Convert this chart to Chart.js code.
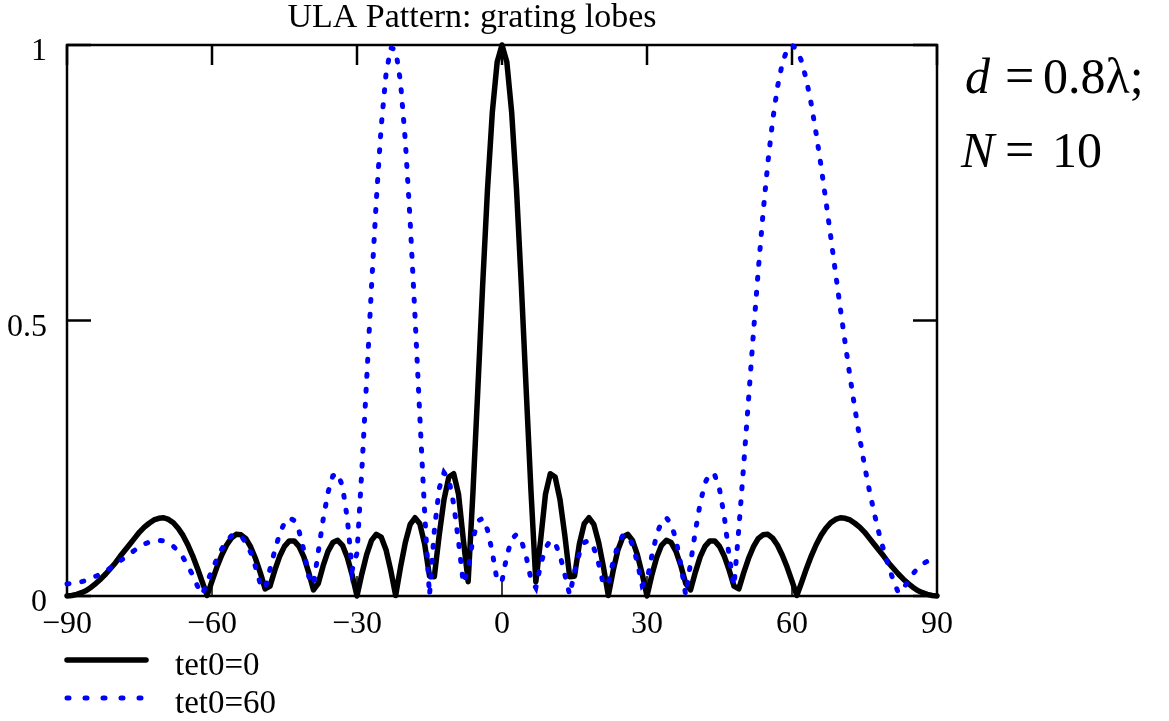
<!DOCTYPE html>
<html>
<head>
<meta charset="utf-8">
<title>ULA Pattern: grating lobes</title>
<script src="https://cdn.jsdelivr.net/npm/chart.js@4/dist/chart.umd.min.js"></script>
<style>
  html, body { margin: 0; padding: 0; background: #fff; }
  canvas { display: block; }
</style>
</head>
<body>
<canvas id="pattern" width="1169" height="721"></canvas>
<script>
// scan angle, degrees
const angles = [
  -90, -89, -88, -87, -86, -85, -84, -83, -82, -81,
  -80, -79, -78, -77, -76, -75, -74, -73, -72, -71,
  -70, -69, -68, -67, -66, -65, -64, -63, -62, -61,
  -60, -59, -58, -57, -56, -55, -54, -53, -52, -51,
  -50, -49, -48, -47, -46, -45, -44, -43, -42, -41,
  -40, -39, -38, -37, -36, -35, -34, -33, -32, -31,
  -30, -29, -28, -27, -26, -25, -24, -23, -22, -21,
  -20, -19, -18, -17, -16, -15, -14, -13, -12, -11,
  -10, -9, -8, -7, -6, -5, -4, -3, -2, -1,
  0,
  1, 2, 3, 4, 5, 6, 7, 8, 9, 10,
  11, 12, 13, 14, 15, 16, 17, 18, 19, 20,
  21, 22, 23, 24, 25, 26, 27, 28, 29, 30,
  31, 32, 33, 34, 35, 36, 37, 38, 39, 40,
  41, 42, 43, 44, 45, 46, 47, 48, 49, 50,
  51, 52, 53, 54, 55, 56, 57, 58, 59, 60,
  61, 62, 63, 64, 65, 66, 67, 68, 69, 70,
  71, 72, 73, 74, 75, 76, 77, 78, 79, 80,
  81, 82, 83, 84, 85, 86, 87, 88, 89, 90
];

// normalised pattern, beam steered to 0 deg
const tet0_0 = [
  0, 0.001, 0.003, 0.006, 0.010, 0.016, 0.023, 0.031, 0.040, 0.050,
  0.060, 0.072, 0.083, 0.094, 0.105, 0.116, 0.125, 0.132, 0.138, 0.141,
  0.142, 0.139, 0.133, 0.123, 0.110, 0.093, 0.073, 0.050, 0.025, 0.001,
  0.027, 0.052, 0.074, 0.092, 0.105, 0.112, 0.111, 0.104, 0.089, 0.068,
  0.042, 0.013, 0.018, 0.047, 0.072, 0.090, 0.100, 0.100, 0.090, 0.071,
  0.043, 0.011, 0.023, 0.055, 0.081, 0.097, 0.101, 0.092, 0.070, 0.038,
  0, 0.040, 0.075, 0.101, 0.112, 0.107, 0.084, 0.046, 0.001, 0.052,
  0.097, 0.130, 0.142, 0.131, 0.094, 0.036, 0.035, 0.110, 0.175, 0.216,
  0.222, 0.185, 0.102, 0.026, 0.190, 0.375, 0.564, 0.738, 0.878, 0.969,
  1,
  0.969, 0.878, 0.738, 0.564, 0.375, 0.190, 0.026, 0.102, 0.185, 0.222,
  0.216, 0.175, 0.110, 0.035, 0.036, 0.094, 0.131, 0.142, 0.130, 0.097,
  0.052, 0.001, 0.046, 0.084, 0.107, 0.112, 0.101, 0.075, 0.040, 0,
  0.038, 0.070, 0.092, 0.101, 0.097, 0.081, 0.055, 0.023, 0.011, 0.043,
  0.071, 0.090, 0.100, 0.100, 0.090, 0.072, 0.047, 0.018, 0.013, 0.042,
  0.068, 0.089, 0.104, 0.111, 0.112, 0.105, 0.092, 0.074, 0.052, 0.027,
  0.001, 0.025, 0.050, 0.073, 0.093, 0.110, 0.123, 0.133, 0.139, 0.142,
  0.141, 0.138, 0.132, 0.125, 0.116, 0.105, 0.094, 0.083, 0.072, 0.060,
  0.050, 0.040, 0.031, 0.023, 0.016, 0.010, 0.006, 0.003, 0.001, 0
];

// beam steered to 60 deg, grating lobe near -23 deg
const tet0_60 = [
  0.022, 0.023, 0.024, 0.026, 0.028, 0.032, 0.036, 0.040, 0.045, 0.051,
  0.057, 0.064, 0.070, 0.077, 0.083, 0.089, 0.094, 0.098, 0.100, 0.101,
  0.100, 0.097, 0.090, 0.082, 0.070, 0.055, 0.038, 0.018, 0.003, 0.025,
  0.047, 0.067, 0.085, 0.100, 0.109, 0.112, 0.109, 0.097, 0.079, 0.053,
  0.022, 0.013, 0.049, 0.083, 0.113, 0.133, 0.142, 0.137, 0.118, 0.083,
  0.036, 0.020, 0.081, 0.139, 0.188, 0.218, 0.223, 0.199, 0.140, 0.047,
  0.078, 0.228, 0.393, 0.561, 0.719, 0.851, 0.947, 0.995, 0.991, 0.933,
  0.826, 0.680, 0.508, 0.326, 0.151, 0.001, 0.119, 0.195, 0.224, 0.212,
  0.167, 0.099, 0.023, 0.049, 0.104, 0.136, 0.141, 0.120, 0.079, 0.027,
  0.027,
  0.073, 0.103, 0.112, 0.101, 0.072, 0.030, 0.015, 0.057, 0.087, 0.101,
  0.096, 0.074, 0.039, 0.002, 0.043, 0.077, 0.097, 0.101, 0.087, 0.059,
  0.020, 0.023, 0.063, 0.093, 0.110, 0.110, 0.093, 0.061, 0.019, 0.028,
  0.073, 0.111, 0.135, 0.142, 0.131, 0.102, 0.057, 0.002, 0.059, 0.117,
  0.168, 0.205, 0.223, 0.220, 0.194, 0.144, 0.072, 0.018, 0.122, 0.237,
  0.356, 0.475, 0.589, 0.694, 0.786, 0.863, 0.924, 0.967, 0.992, 1,
  0.992, 0.970, 0.936, 0.892, 0.839, 0.781, 0.718, 0.653, 0.587, 0.522,
  0.459, 0.398, 0.341, 0.287, 0.237, 0.192, 0.151, 0.114, 0.082, 0.053,
  0.028, 0.006, 0.012, 0.028, 0.040, 0.050, 0.058, 0.063, 0.067, 0.068
];

const xTicks = [-90, -60, -30, 0, 30, 60, 90];
const yTicks = [0, 0.5, 1];

const serif = "'Liberation Serif', 'Times New Roman', serif";

// box frame with inward ticks, drawn under the curves
const framePlugin = {
  id: "frame",
  beforeDatasetsDraw(chart) {
    const { ctx, chartArea: a, scales: { x, y } } = chart;
    ctx.save();
    ctx.strokeStyle = "#000";
    ctx.lineWidth = 2.5;
    ctx.strokeRect(a.left, a.top, a.right - a.left, a.bottom - a.top);

    ctx.beginPath();
    x.ticks.forEach(t => {
      const px = x.getPixelForValue(t.value);
      ctx.moveTo(px, a.top);
      ctx.lineTo(px, a.top + 20);
    });
    y.ticks.forEach(t => {
      const py = y.getPixelForValue(t.value);
      ctx.moveTo(a.left, py);
      ctx.lineTo(a.left + 24, py);
      ctx.moveTo(a.right, py);
      ctx.lineTo(a.right - 24, py);
    });
    ctx.stroke();

    ctx.lineWidth = 1.5;
    ctx.beginPath();
    x.ticks.forEach(t => {
      const px = x.getPixelForValue(t.value);
      ctx.moveTo(px, a.bottom);
      ctx.lineTo(px, a.bottom - 20);
    });
    ctx.stroke();
    ctx.restore();
  }
};

// title, legend and the d / N note on the right
const textPlugin = {
  id: "texts",
  afterDraw(chart) {
    const ctx = chart.ctx;
    ctx.save();
    ctx.fillStyle = "#000";
    ctx.textBaseline = "alphabetic";

    ctx.font = "34px " + serif;
    ctx.textAlign = "center";
    ctx.fillText("ULA Pattern: grating lobes", 472, 27);

    ctx.textAlign = "left";
    chart.data.datasets.forEach((ds, i) => {
      const yy = 660 + i * 38;
      ctx.strokeStyle = ds.borderColor;
      ctx.lineWidth = ds.borderWidth;
      ctx.lineCap = "round";
      ctx.setLineDash(ds.borderDash ? [2, 16] : []);
      ctx.beginPath();
      ctx.moveTo(67, yy);
      ctx.lineTo(146, yy);
      ctx.stroke();
      ctx.setLineDash([]);
      ctx.font = "33px " + serif;
      ctx.fillText(ds.label, 175, yy + 15);
    });

    ctx.font = "italic 50px " + serif;
    ctx.fillText("d", 965, 93);
    ctx.fillText("N", 961, 167);
    ctx.font = "52px " + serif;
    ctx.fillText("=", 1005, 93);
    ctx.fillText("=", 1005, 167);
    ctx.font = "50px " + serif;
    ctx.fillText("0.8λ;", 1043, 93);
    ctx.fillText("10", 1052, 167);
    ctx.restore();
  }
};

new Chart(document.getElementById("pattern"), {
  type: "line",
  data: {
    datasets: [
      {
        label: "tet0=0",
        data: angles.map((a, i) => ({ x: a, y: tet0_0[i] })),
        borderColor: "#000000",
        borderWidth: 5.5,
        borderJoinStyle: "round",
        borderCapStyle: "round",
        pointRadius: 0,
        fill: false,
        clip: false,
        order: 1
      },
      {
        label: "tet0=60",
        data: angles.map((a, i) => ({ x: a, y: tet0_60[i] })),
        borderColor: "#0000ff",
        borderWidth: 5,
        borderDash: [2, 13],
        borderCapStyle: "round",
        pointRadius: 0,
        fill: false,
        clip: false,
        order: 0
      }
    ]
  },
  options: {
    responsive: false,
    animation: false,
    events: [],
    layout: { padding: { left: 0, right: 232, top: 45, bottom: 0 } },
    scales: {
      x: {
        type: "linear",
        min: -90,
        max: 90,
        afterBuildTicks: s => { s.ticks = xTicks.map(v => ({ value: v })); },
        afterFit: s => { s.height = 125; },
        grid: { display: false, drawTicks: false },
        border: { display: false },
        ticks: {
          color: "#000",
          font: { family: serif, size: 32 },
          padding: 9,
          maxRotation: 0,
          autoSkip: false,
          callback: v => (v < 0 ? "\u2212" + Math.abs(v) : String(v))
        }
      },
      y: {
        min: 0,
        max: 1,
        afterBuildTicks: s => { s.ticks = yTicks.map(v => ({ value: v })); },
        afterFit: s => { s.width = 67; },
        grid: { display: false, drawTicks: false },
        border: { display: false },
        ticks: {
          color: "#000",
          font: { family: serif, size: 32 },
          padding: 20,
          labelOffset: 7,
          callback: v => String(v)
        }
      }
    },
    plugins: {
      legend: { display: false },
      tooltip: { enabled: false }
    }
  },
  plugins: [framePlugin, textPlugin]
});
</script>
</body>
</html>
